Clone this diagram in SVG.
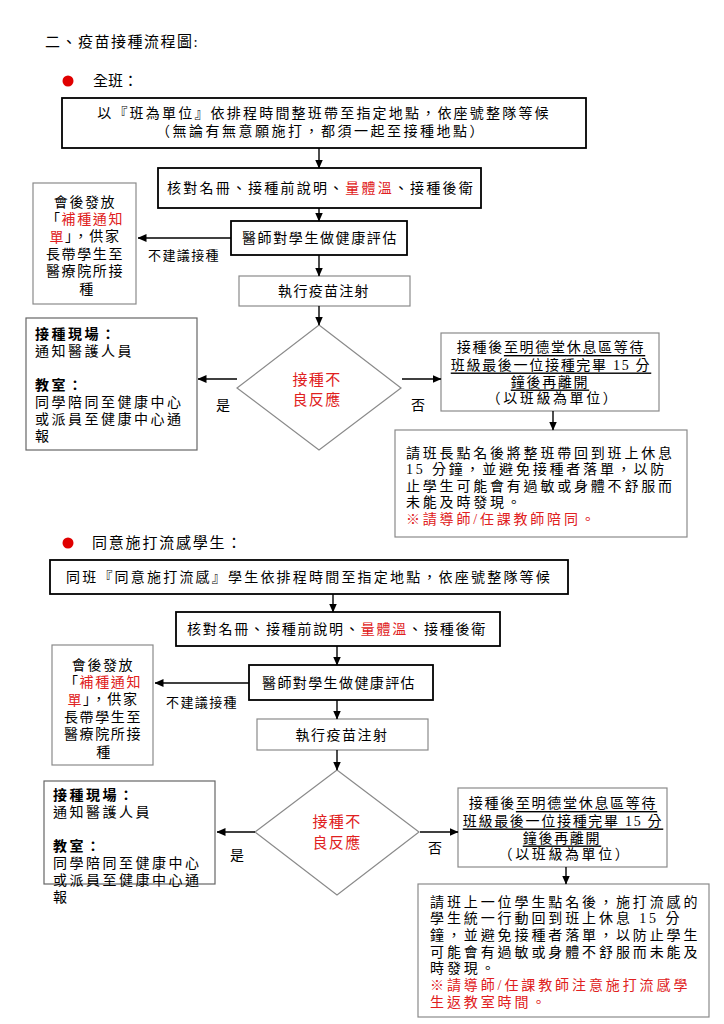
<svg xmlns="http://www.w3.org/2000/svg" width="724" height="1024" viewBox="0 0 724 1024">
<defs>
<marker id="ah" markerUnits="userSpaceOnUse" markerWidth="9" markerHeight="9" refX="8.5" refY="4.5" orient="auto">
<path d="M0,0.5 L9,4.5 L0,8.5 Z" fill="#000"/>
</marker>
</defs>
<style>
text{font-family:"Liberation Serif","Noto Sans CJK TC",serif;font-size:14px;fill:#000;dominant-baseline:central}
.m{text-anchor:middle}
.r{fill:#e02020}
.b{font-weight:bold}
.thick{fill:#fff;stroke:#000;stroke-width:1.8}
.thin{fill:#fff;stroke:#8a8a8a;stroke-width:1.2}
.conn path{fill:none;stroke:#000;stroke-width:1.4;marker-end:url(#ah)}
.u{text-decoration:underline}
</style>
<rect width="724" height="1024" fill="#fff"/>

<g id="title"><text x="45" y="42" style="font-size:15px;letter-spacing:1.5px">二、疫苗接種流程圖:</text></g>

<!-- Section 1 -->
<g id="head1"><circle cx="68" cy="81" r="5.5" fill="#e00000"/><text x="93" y="81" style="font-size:15px">全班：</text></g>

<g id="s1_start"><rect class="thick" x="62" y="98" width="524" height="50"/>
<text class="m" x="324" y="113" style="letter-spacing:2.2px">以『班為單位』依排程時間整班帶至指定地點，依座號整隊等候</text>
<text class="m" x="321" y="131" style="letter-spacing:2.5px">（無論有無意願施打，都須一起至接種地點）</text></g>

<g id="s1_check"><rect class="thick" x="158" y="168" width="323" height="40"/>
<text class="m" x="321" y="188" style="letter-spacing:2.2px">核對名冊、接種前說明、<tspan class="r">量體溫</tspan>、接種後衛</text></g>

<g id="s1_eval"><rect class="thick" x="231" y="221" width="176" height="34"/>
<text class="m" x="320" y="238" style="letter-spacing:1.6px">醫師對學生做健康評估</text></g>

<g id="s1_note"><rect class="thin" x="33" y="183" width="103" height="121"/>
<g style="letter-spacing:1.6px">
<text class="m" x="85" y="202">會後發放</text>
<text class="m" x="85" y="219.4">「<tspan class="r">補種通知</tspan></text>
<text class="m" x="85" y="236.8"><tspan class="r">單</tspan>」，供家</text>
<text class="m" x="85" y="254.2">長帶學生至</text>
<text class="m" x="85" y="271.6">醫療院所接</text>
<text class="m" x="87" y="289">種</text></g></g>

<g id="s1_inject"><rect class="thin" x="239" y="276" width="171" height="30"/>
<text class="m" x="324" y="291" style="letter-spacing:1.3px">執行疫苗注射</text></g>

<g id="s1_dec"><polygon class="thin" points="319,325 401,388 319,450 237,388"/>
<text class="m r" x="317" y="380" style="font-size:15px;letter-spacing:1.3px">接種不</text>
<text class="m r" x="317" y="400" style="font-size:15px;letter-spacing:1.3px">良反應</text></g>

<g id="s1_yes"><rect class="thin" x="26" y="318" width="171" height="132" style="stroke:#666"/>
<g style="letter-spacing:2.5px">
<text class="b" x="35" y="334">接種現場：</text>
<text x="35" y="351">通知醫護人員</text>
<text class="b" x="35" y="385">教室：</text>
<text x="35" y="402">同學陪同至健康中心</text>
<text x="35" y="419">或派員至健康中心通</text>
<text x="35" y="436">報</text></g></g>

<g id="s1_wait"><rect class="thin" x="441" y="333" width="218" height="78"/>
<g style="letter-spacing:1.7px">
<text class="m" x="551" y="347">接種後<tspan class="u">至明德堂休息區等待</tspan></text>
<text class="m u" x="551" y="365">班級最後一位接種完畢 15 分</text>
<text class="m u" x="550" y="382">鐘後再離開</text>
<text class="m" x="553" y="398" style="letter-spacing:2.6px">（以班級為單位）</text></g></g>

<g id="s1_back"><rect class="thin" x="395" y="430" width="292" height="107"/>
<g style="letter-spacing:2.8px">
<text x="406" y="453">請班長點名後將整班帶回到班上休息</text>
<text x="406" y="469.5">15 分鐘，並避免接種者落單，以防</text>
<text x="406" y="486">止學生可能會有過敏或身體不舒服而</text>
<text x="406" y="502.5">未能及時發現。</text>
<text class="r" x="406" y="519">※請導師/任課教師陪同。</text></g></g>

<g id="s1_labels">
<text x="148" y="255" style="font-size:13px;letter-spacing:1.4px">不建議接種</text>
<text class="m" x="223" y="405">是</text>
<text class="m" x="418" y="405">否</text></g>

<g class="conn" id="s1_conn">
<path d="M319,148 V168"/>
<path d="M319,208 V221"/>
<path d="M231,238 H138"/>
<path d="M319,255 V276"/>
<path d="M319,306 V325"/>
<path d="M237,379 H198"/>
<path d="M402,379 H441"/>
<path d="M553,411 V430"/>
</g>

<!-- Section 2 -->
<g id="head2"><circle cx="68" cy="543" r="5.5" fill="#e00000"/><text x="92" y="543" style="font-size:15px;letter-spacing:1.8px">同意施打流感學生：</text></g>

<g id="s2_start"><rect class="thick" x="50" y="560" width="518" height="34"/>
<text class="m" x="309" y="577" style="letter-spacing:2.2px">同班『同意施打流感』學生依排程時間至指定地點，依座號整隊等候</text></g>

<g id="s2_check"><rect class="thick" x="176" y="612" width="324" height="34"/>
<text class="m" x="337" y="629" style="letter-spacing:1.8px">核對名冊、接種前說明、<tspan class="r">量體溫</tspan>、接種後衛</text></g>

<g id="s2_eval"><rect class="thick" x="249" y="665" width="184" height="35"/>
<text class="m" x="339" y="683" style="letter-spacing:1.4px">醫師對學生做健康評估</text></g>

<g id="s2_note"><rect class="thin" x="52" y="645" width="101" height="120"/>
<g style="letter-spacing:1.6px">
<text class="m" x="103" y="665">會後發放</text>
<text class="m" x="103" y="682.4">「<tspan class="r">補種通知</tspan></text>
<text class="m" x="103" y="699.8"><tspan class="r">單</tspan>」，供家</text>
<text class="m" x="103" y="717.2">長帶學生至</text>
<text class="m" x="103" y="734.6">醫療院所接</text>
<text class="m" x="104" y="752">種</text></g></g>

<g id="s2_inject"><rect class="thin" x="257" y="719" width="171" height="31"/>
<text class="m" x="342" y="735" style="letter-spacing:1.5px">執行疫苗注射</text></g>

<g id="s2_dec"><polygon class="thin" points="337,770 419,832 337,895 255,832"/>
<text class="m r" x="337" y="822" style="font-size:15px;letter-spacing:1.3px">接種不</text>
<text class="m r" x="337" y="843" style="font-size:15px;letter-spacing:1.3px">良反應</text></g>

<g id="s2_yes"><rect class="thin" x="44" y="781" width="171" height="103" style="stroke:#666"/>
<g style="letter-spacing:2.5px">
<text class="b" x="53" y="795">接種現場：</text>
<text x="53" y="812">通知醫護人員</text>
<text class="b" x="53" y="846">教室：</text>
<text x="53" y="863">同學陪同至健康中心</text>
<text x="53" y="880">或派員至健康中心通</text>
<text x="53" y="897">報</text></g></g>

<g id="s2_wait"><rect class="thin" x="458" y="788" width="209" height="79"/>
<g style="letter-spacing:1.7px">
<text class="m" x="563" y="803">接種後<tspan class="u">至明德堂休息區等待</tspan></text>
<text class="m u" x="563" y="821">班級最後一位接種完畢 15 分</text>
<text class="m u" x="562" y="838">鐘後再離開</text>
<text class="m" x="565" y="854" style="letter-spacing:2.6px">（以班級為單位）</text></g></g>

<g id="s2_back"><rect class="thin" x="418" y="884" width="291" height="133"/>
<g style="letter-spacing:2.9px">
<text x="430" y="902">請班上一位學生點名後，施打流感的</text>
<text x="430" y="918.7">學生統一行動回到班上休息 15 分</text>
<text x="430" y="935.4">鐘，並避免接種者落單，以防止學生</text>
<text x="430" y="952.1">可能會有過敏或身體不舒服而未能及</text>
<text x="430" y="968.8">時發現。</text>
<text class="r" x="430" y="985.5">※請導師/任課教師注意施打流感學</text>
<text class="r" x="430" y="1002.2">生返教室時間。</text></g></g>

<g id="s2_labels">
<text x="166" y="702" style="font-size:13px;letter-spacing:1.4px">不建議接種</text>
<text class="m" x="237" y="855">是</text>
<text class="m" x="435" y="848">否</text></g>

<g class="conn" id="s2_conn">
<path d="M333,594 V612"/>
<path d="M337,646 V665"/>
<path d="M249,683 H155"/>
<path d="M337,700 V719"/>
<path d="M337,750 V770"/>
<path d="M255,832 H217"/>
<path d="M420,832 H458"/>
<path d="M566,867 V884"/>
</g>
</svg>
